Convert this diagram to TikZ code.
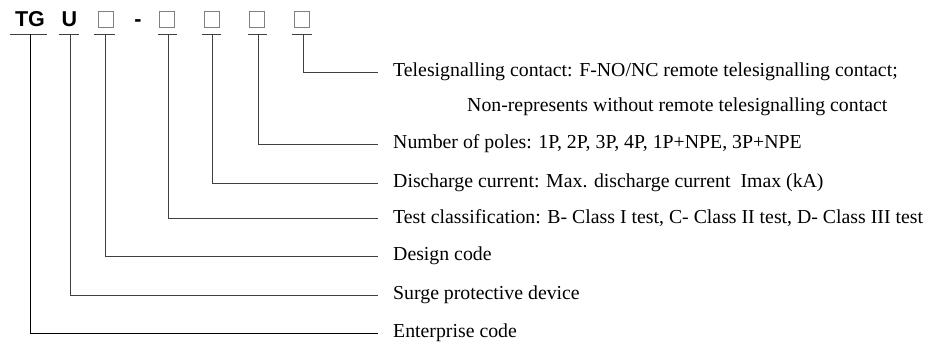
\documentclass[tikz,border=0pt]{standalone}
\usepackage{fontspec}
\setmainfont{Liberation Serif}
\newfontfamily\codefont{Liberation Sans}
\usetikzlibrary{positioning}

\tikzset{
  code/.style={anchor=base, font=\codefont\bfseries\fontsize{21.5}{24}\selectfont, inner sep=0pt},
  slot/.style={draw=black!50, line width=0.7pt, minimum width=15pt, minimum height=16pt, inner sep=0pt},
  lbl/.style={anchor=west, font=\fontsize{19.8}{23}\selectfont, inner sep=0pt},
  lead/.style={draw=black!75, line width=0.8pt}
}

\begin{document}
\begin{tikzpicture}[x=1pt,y=-1pt]
\useasboundingbox (0,0) rectangle (936,344);

% the type code
\node[code] (tg) at (30,27) {TG};
\node[code] (u) at (69.5,27) {U};
\node[slot] (b1) at (105.5,19) {};
\node[code] (dash) at (138,27) {-};
\node[slot] (b2) at (167,19) {};
\node[slot] (b3) at (211.5,19) {};
\node[slot] (b4) at (257,19) {};
\node[slot] (b5) at (301.5,19) {};

% points under each part
\coordinate (tgu) at (30,34);
\coordinate (uu) at (70,34);
\coordinate (b1u) at (105,34);
\coordinate (b2u) at (168,34);
\coordinate (b3u) at (212,34);
\coordinate (b4u) at (258,34);
\coordinate (b5u) at (303,34);

% meanings
\node[lbl] (tele) at (393,72) {Telesignalling contact: F-NO/NC remote telesignalling contact;};
\node[lbl] (nonrep) at (467,107) {Non-represents without remote telesignalling contact};
\node[lbl] (poles) at (393,144) {Number of poles: 1P, 2P, 3P, 4P, 1P+NPE, 3P+NPE};
\node[lbl] (disch) at (393,183) {Discharge current: Max. discharge current \ Imax (kA)};
\node[lbl] (test) at (393,218) {Test classification: B- Class I test, C- Class II test, D- Class III test};
\node[lbl] (design) at (393,256) {Design code};
\node[lbl] (surge) at (393,295) {Surge protective device};
\node[lbl] (ent) at (393,333) {Enterprise code};

% underlines
\draw[lead] ([xshift=-20pt]tgu) -- ([xshift=17pt]tgu);
\draw[lead] ([xshift=-11pt]uu) -- ([xshift=9pt]uu);
\draw[lead] ([xshift=-11pt]b1u) -- ([xshift=10pt]b1u);
\draw[lead] ([xshift=-10pt]b2u) -- ([xshift=9pt]b2u);
\draw[lead] ([xshift=-10pt]b3u) -- ([xshift=9pt]b3u);
\draw[lead] ([xshift=-10pt]b4u) -- ([xshift=9pt]b4u);
\draw[lead] ([xshift=-11pt]b5u) -- ([xshift=9pt]b5u);

% leaders
\draw[lead, draw=black] (tgu) |- ([xshift=-15pt]ent.west);
\draw[lead] (uu) |- ([xshift=-15pt]surge.west);
\draw[lead] (b1u) |- ([xshift=-15pt]design.west);
\draw[lead] (b2u) |- ([xshift=-15pt]test.west);
\draw[lead] (b3u) |- ([xshift=-15pt]disch.west);
\draw[lead] (b4u) |- ([xshift=-15pt]poles.west);
\draw[lead] (b5u) |- ([xshift=-15pt]tele.west);
\end{tikzpicture}
\end{document}
